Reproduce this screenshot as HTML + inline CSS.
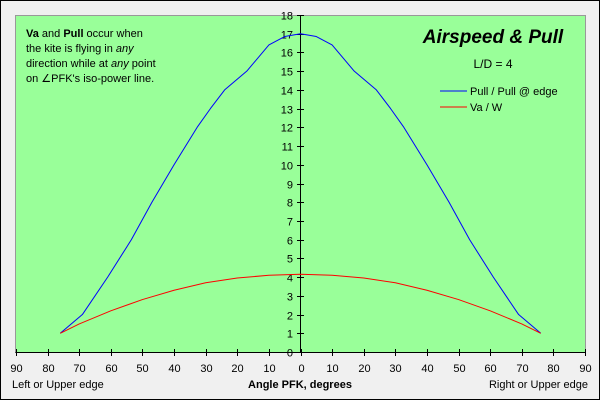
<!DOCTYPE html>
<html><head><meta charset="utf-8"><style>
body{margin:0;width:600px;height:400px;overflow:hidden;background:#f0f0f0;}
svg{display:block;font-family:"Liberation Sans",Arial,sans-serif;}
</style></head><body>
<svg id="chart" width="600" height="400">
<rect x="0.5" y="0.5" width="599" height="399" fill="#f0f0f0" stroke="#000"/>
<rect x="15.5" y="15.5" width="570" height="337" fill="#99ff99" stroke="#999"/>
<g id="axes"></g>
<g id="series"></g>
<text x="26" y="37" font-size="11"><tspan font-weight="bold">Va</tspan> and <tspan font-weight="bold">Pull</tspan> occur when</text>
<text x="26" y="52" font-size="11">the kite is flying in <tspan font-style="italic">any</tspan></text>
<text x="26" y="67" font-size="11">direction while at <tspan font-style="italic">any</tspan> point</text>
<text x="26" y="82" font-size="11">on ∠PFK's iso-power line.</text>
<text x="493" y="43" font-size="19" font-weight="bold" font-style="italic" text-anchor="middle">Airspeed &amp; Pull</text>
<text x="493" y="68" font-size="12" text-anchor="middle">L/D = 4</text>
<line x1="440" y1="91" x2="467" y2="91" stroke="#0000ff"/>
<text x="470" y="95" font-size="11">Pull / Pull @ edge</text>
<line x1="440" y1="107" x2="467" y2="107" stroke="#ff0000"/>
<text x="470" y="111" font-size="11">Va / W</text>
<text x="12" y="388" font-size="11">Left or Upper edge</text>
<text x="300" y="388" font-size="11" font-weight="bold" text-anchor="middle">Angle PFK, degrees</text>
<text x="588" y="388" font-size="11" text-anchor="end">Right or Upper edge</text>
</svg>
<script>
const angles=[-76,-69,-61,-53.5,-47,-40,-32.7,-28.5,-24,-17,-10,-5,0,5,10,17,24,28.5,32.7,40,47,53.5,61,69,76];
const pullValues=[1,2,4,6,8,10,12,13,14,15,16.4,16.85,17,16.85,16.4,15,14,13,12,10,8,6,4,2,1];
const vaAngles=[-76,-70,-60,-50,-40,-30,-20,-10,0,10,20,30,40,50,60,70,76];
const vaValues=[1,1.5,2.2,2.8,3.3,3.7,3.95,4.1,4.15,4.1,3.95,3.7,3.3,2.8,2.2,1.5,1];
const xTicks=[-90,-80,-70,-60,-50,-40,-30,-20,-10,0,10,20,30,40,50,60,70,80,90];
const yTicks=[0,1,2,3,4,5,6,7,8,9,10,11,12,13,14,15,16,17,18];
const NS='http://www.w3.org/2000/svg';
const xs=v=>300.5+v*(569/180);
const ys=v=>352-v*(337/18);
function mk(t,a,p){const e=document.createElementNS(NS,t);for(const k in a)e.setAttribute(k,a[k]);p.appendChild(e);return e;}
const ax=document.getElementById('axes');
const xl=mk('line',{x1:15.5,y1:352.5,x2:585.5,y2:352.5,stroke:'#000'},ax);


const yl=mk('line',{x1:300.5,y1:15,x2:300.5,y2:352,stroke:'#000'},ax);


xTicks.forEach(v=>{const x=Math.round(xs(v))+0.5;
 const t=mk('line',{x1:x,y1:349,x2:x,y2:356,stroke:'#000'},ax);
 
 
 const l=mk('text',{x:x,y:372,'font-size':11,'text-anchor':'middle'},ax);
 l.textContent=String(Math.abs(v));
 
 });
yTicks.forEach(v=>{const y=Math.round(ys(v))+0.5;
 const t=mk('line',{x1:297,y1:y,x2:304,y2:y,stroke:'#000'},ax);
 
 
 const l=mk('text',{x:293,y:y+4,'font-size':11,'text-anchor':'end'},ax);
 l.textContent=String(v);
 
 });
const sg=document.getElementById('series');
const p1=mk('polyline',{points:angles.map((a,i)=>xs(a)+','+ys(pullValues[i])).join(' '),fill:'none',stroke:'#0000ff','stroke-width':1,'stroke-linejoin':'round'},sg);


const p2=mk('polyline',{points:vaAngles.map((a,i)=>xs(a)+','+ys(vaValues[i])).join(' '),fill:'none',stroke:'#ff0000','stroke-width':1,'stroke-linejoin':'round'},sg);


</script>
</body></html>
